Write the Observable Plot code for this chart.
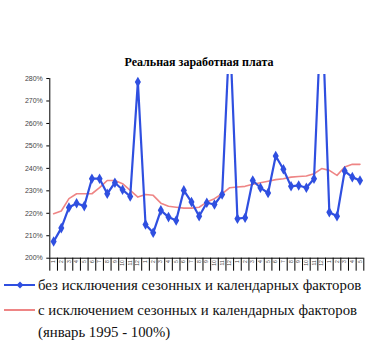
<!DOCTYPE html>
<html>
<head>
<meta charset="utf-8">
<script src="https://cdn.jsdelivr.net/npm/d3@7"></script>
<script src="https://cdn.jsdelivr.net/npm/@observablehq/plot@0.6"></script>
<style>
  html, body { margin: 0; padding: 0; background: #fff; }
  #wrap { position: relative; width: 375px; height: 358px; overflow: hidden; }
  #title { position: absolute; left: 0; width: 398px; top: 55px; text-align: center; font-weight: bold; font-size: 12px; color: #000; z-index: 2; font-family: "Liberation Serif", "DejaVu Serif", serif; }
  #plot { position: absolute; left: 0; top: 70px; }
  .leg { position: absolute; left: 0; width: 375px; }
  .leg .txt { position: absolute; left: 38px; font-size: 14.8px; color: #111; white-space: nowrap; line-height: 22px; font-family: "Liberation Serif", "Times New Roman", serif; }
  .leg svg { position: absolute; left: 0; }
</style>
</head>
<body>
<div id="wrap">
  <div id="title">Реальная заработная плата</div>
  <div id="plot"></div>
  <div class="leg" id="leg1" style="top:274px">
    <svg width="38" height="22"><line x1="4" x2="35" y1="11" y2="11" stroke="#2f4fe0" stroke-width="2"/><path d="M20,7.5L23.5,11L20,14.5L16.5,11Z" fill="#2f4fe0"/></svg>
    <div class="txt" style="top:0">без исключения сезонных и календарных факторов</div>
  </div>
  <div class="leg" id="leg2" style="top:299px">
    <svg width="38" height="22"><line x1="4" x2="35" y1="11" y2="11" stroke="#ee8585" stroke-width="2"/></svg>
    <div class="txt" style="top:0">с исключением сезонных и календарных факторов<br>(январь 1995 - 100%)</div>
  </div>
</div>
<script>
const monthLabels = ["1","2","3","4","5","6","7","8","9","10","11","12",
                     "1","2","3","4","5","6","7","8","9","10","11","12",
                     "1","2","3","4","5","6","7","8","9","10","11","12",
                     "1","2","3","4","5"];
const rawWage = [207.4,213.4,222.6,224.5,223.2,235.4,235.4,228.7,233.6,230.5,227.5,278.5,
                 215.0,211.3,221.3,218.3,216.8,230.2,225.0,218.7,224.7,223.9,228.4,302,
                 217.6,218.0,234.6,231.4,229.0,245.5,239.6,232.0,232.4,231.4,235.4,315,
                 220.5,218.7,238.8,236.1,234.6];
const adjWage = [219.8,221.0,226.5,228.7,228.7,228.7,231.4,234.6,234.6,233.2,230.2,227.2,
                 228.4,228.0,224.5,223.1,222.7,222.3,222.3,222.7,225.0,226.5,228.7,231.4,
                 231.7,232.0,232.9,233.6,234.3,235.0,235.4,236.1,236.4,236.6,237.6,239.9,
                 239.1,236.9,240.6,241.8,241.8];
const yTicks = [200,210,220,230,240,250,260,270,280];

const idx = monthLabels.map((_, i) => i + 1);
const raw = idx.map((i) => ({i, v: rawWage[i - 1]}));
const adj = idx.map((i) => ({i, v: adjWage[i - 1]}));
const bounds = d3.range(0, monthLabels.length + 1).map((k) => k + 0.5);

const blue = "#2f4fe0";
const red = "#ee8585";

const chart = Plot.plot({
  width: 375,
  height: 206,
  marginLeft: 49.3,
  marginRight: 11.7,
  marginTop: 4,
  marginBottom: 18.3,
  style: {background: "transparent", fontFamily: "Liberation Sans, Arial, sans-serif"},
  x: {domain: [0.5, monthLabels.length + 0.5]},
  y: {domain: [200, 281.8]},
  marks: [
    Plot.axisY({ticks: yTicks, tickFormat: (d) => d + "%", tickSize: 3, tickPadding: 4, fontSize: 7, fill: "#444", stroke: "#000", label: null}),
    Plot.axisX({ticks: bounds, tickFormat: () => "", tickSize: 13, stroke: "#000", label: null}),
    Plot.axisX({ticks: idx, tickFormat: (d) => monthLabels[d - 1], tickSize: 0, tickPadding: 2, tickRotate: -90, fontSize: 5, fill: "#444", label: null}),
    Plot.ruleX([0.5], {y1: 200, y2: 280, stroke: "#000"}),
    Plot.ruleY([200], {stroke: "#000"}),
    Plot.line(adj, {x: "i", y: "v", stroke: red, strokeWidth: 1.6, clip: true}),
    Plot.line(raw, {x: "i", y: "v", stroke: blue, strokeWidth: 2.2, clip: true}),
    Plot.dot(raw, {x: "i", y: "v", symbol: "diamond", r: 3.2, fill: blue, stroke: null, clip: true})
  ]
});
document.getElementById("plot").appendChild(chart);
</script>
</body>
</html>
